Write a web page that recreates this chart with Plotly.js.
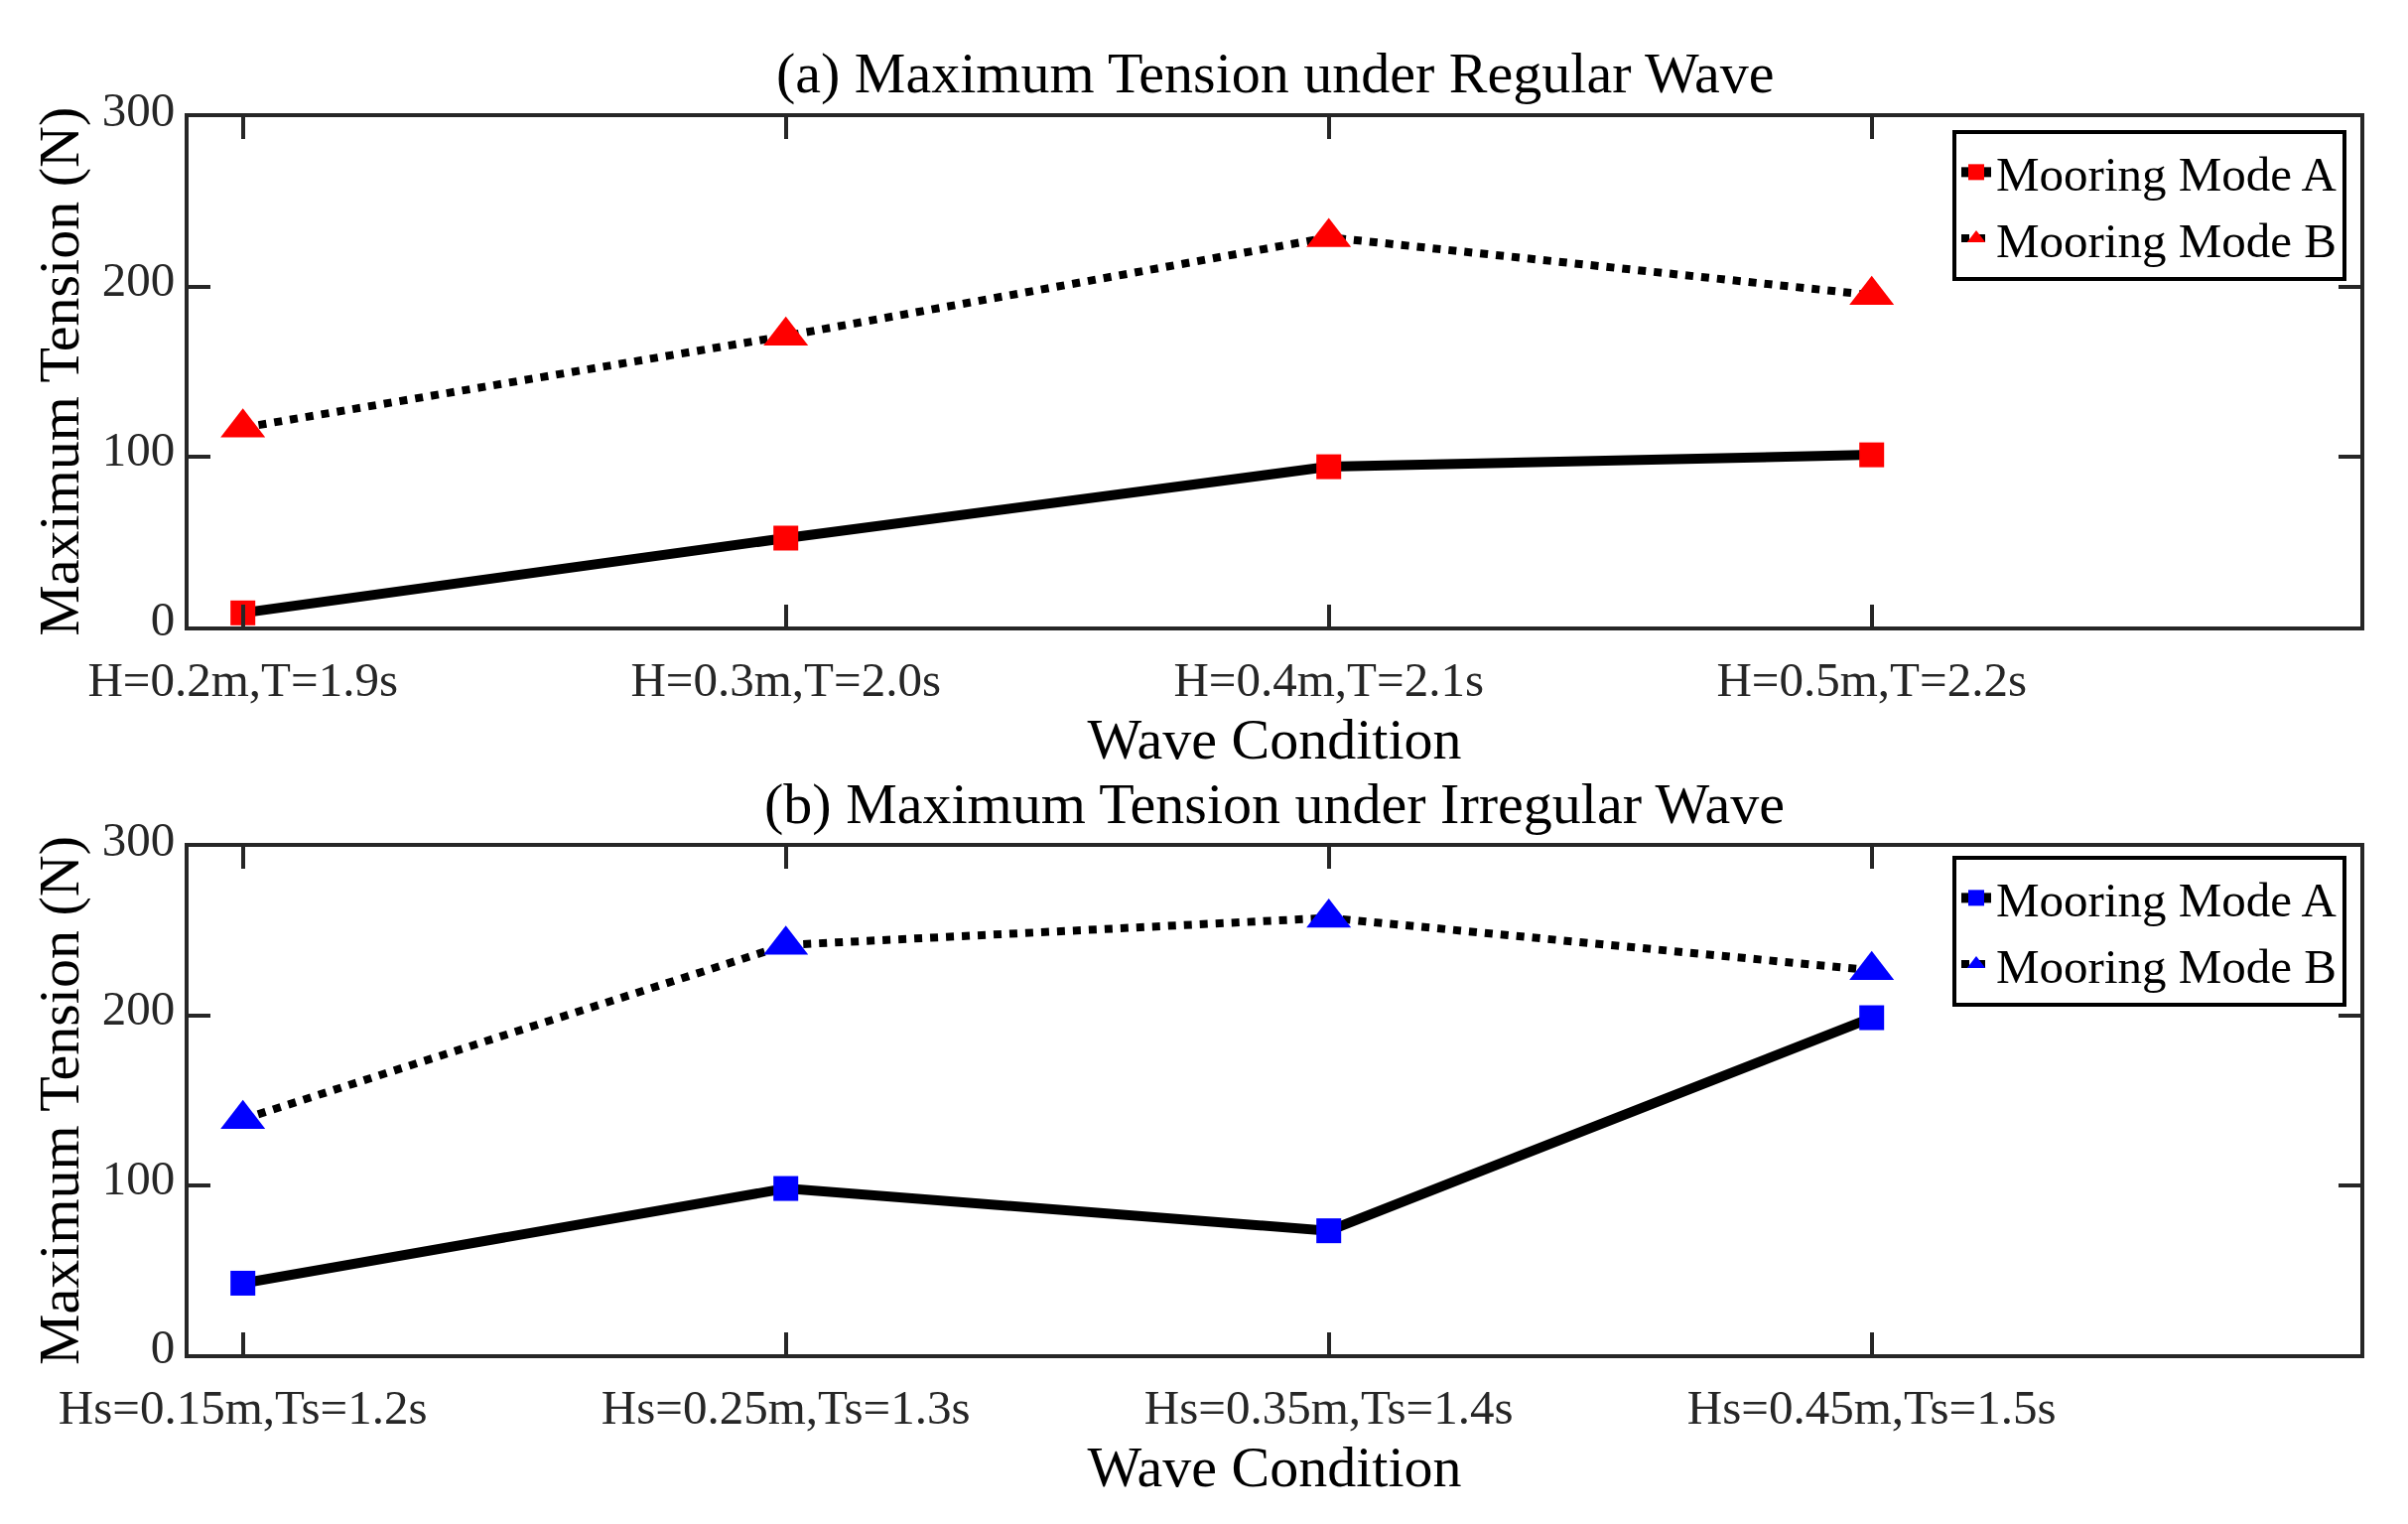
<!DOCTYPE html>
<html>
<head>
<meta charset="utf-8">
<script src="https://cdn.plot.ly/plotly-3.0.1.min.js"></script>
<style>html,body{margin:0;padding:0;background:#fff;}#chart{width:2426px;height:1535px;}</style>
</head>
<body>
<div id="chart"></div>
<script>
// ---- data ----
const regularConditions = ["H=0.2m,T=1.9s", "H=0.3m,T=2.0s", "H=0.4m,T=2.1s", "H=0.5m,T=2.2s"];
const regularModeA = [8, 52, 94, 101];
const regularModeB = [117, 171, 229, 195];

const irregularConditions = ["Hs=0.15m,Ts=1.2s", "Hs=0.25m,Ts=1.3s", "Hs=0.35m,Ts=1.4s", "Hs=0.45m,Ts=1.5s"];
const irregularModeA = [42, 98, 73, 199];
const irregularModeB = [139, 242, 258, 227];

const seriesNames = ["Mooring Mode A", "Mooring Mode B"];
const panelTitles = ["(a) Maximum Tension under Regular Wave", "(b) Maximum Tension under Irregular Wave"];
const xTitle = "Wave Condition";
const yTitle = "Maximum Tension (N)";

// ---- styling ----
const FONT = "Liberation Serif, Times New Roman, serif";
const AX = "#262626";
const W = 2426, H = 1535;

function modeA(x, y, color, xa, ya, lg) {
  return {x: x, y: y, name: seriesNames[0], type: "scatter", mode: "lines+markers",
    xaxis: xa, yaxis: ya, legend: lg,
    line: {color: "#000", width: 10},
    marker: {symbol: "square", size: 25, color: color}};
}
function modeB(x, y, color, xa, ya, lg) {
  return {x: x, y: y, name: seriesNames[1], type: "scatter", mode: "lines+markers",
    xaxis: xa, yaxis: ya, legend: lg,
    line: {color: "#000", width: 8, dash: "dot"},
    marker: {symbol: "triangle-up", size: 39, color: color}};
}

const data = [
  modeA(regularConditions, regularModeA, "#ff0000", "x", "y", "legend"),
  modeB(regularConditions, regularModeB, "#ff0000", "x", "y", "legend"),
  modeA(irregularConditions, irregularModeA, "#0000ff", "x2", "y2", "legend2"),
  modeB(irregularConditions, irregularModeB, "#0000ff", "x2", "y2", "legend2")
];

const xl = 190 / W, xr = 2378 / W;
const topDom = [1 - 631 / H, 1 - 117.5 / H];
const botDom = [1 - 1364 / H, 1 - 853 / H];

function xaxis(anchor) {
  return {domain: [xl, xr], anchor: anchor, type: "category", range: [-0.1, 3.9],
    showline: true, linecolor: AX, linewidth: 4, mirror: "allticks",
    ticks: "inside", ticklen: 22, tickwidth: 4, tickcolor: AX,
    showgrid: false, zeroline: false,
    tickfont: {family: FONT, size: 49, color: AX},
    ticklabelstandoff: 7,
    title: {text: xTitle, font: {family: FONT, size: 58, color: "#000"}, standoff: 3}};
}
function yaxis(dom, anchor) {
  return {domain: dom, anchor: anchor, range: [0, 300], tickvals: [0, 100, 200, 300],
    showline: true, linecolor: AX, linewidth: 4, mirror: "allticks",
    ticks: "inside", ticklen: 22, tickwidth: 4, tickcolor: AX,
    showgrid: false, zeroline: false,
    tickfont: {family: FONT, size: 49, color: AX},
    ticklabelshift: -8,
    title: {text: yTitle, font: {family: FONT, size: 58, color: "#000"}, standoff: 5}};
}
function legend(yTop) {
  return {x: 2364 / W, xanchor: "right", y: yTop, yanchor: "top",
    bgcolor: "#fff", bordercolor: "#000", borderwidth: 4,
    font: {family: FONT, size: 49, color: "#000"}, tracegroupgap: 0};
}

const layout = {
  width: W, height: H,
  margin: {l: 0, r: 0, t: 0, b: 0},
  paper_bgcolor: "#fff", plot_bgcolor: "#fff",
  font: {family: FONT, color: "#000"},
  xaxis: xaxis("y"), yaxis: yaxis(topDom, "x"),
  xaxis2: xaxis("y2"), yaxis2: yaxis(botDom, "x2"),
  legend: legend(1 - 131 / H),
  legend2: legend(1 - 862 / H),
  annotations: [
    {text: panelTitles[0], xref: "paper", yref: "paper", x: (xl + xr) / 2, y: 1 - 74 / H,
     xanchor: "center", yanchor: "middle", showarrow: false, font: {family: FONT, size: 58, color: "#000"}},
    {text: panelTitles[1], xref: "paper", yref: "paper", x: (xl + xr) / 2, y: 1 - 809 / H,
     xanchor: "center", yanchor: "middle", showarrow: false, font: {family: FONT, size: 58, color: "#000"}}
  ],
  showlegend: true
};

Plotly.newPlot("chart", data, layout, {displayModeBar: false, staticPlot: true});
</script>
</body>
</html>
